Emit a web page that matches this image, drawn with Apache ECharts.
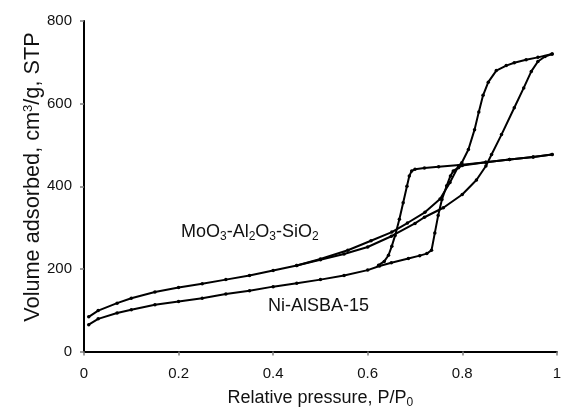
<!DOCTYPE html>
<html><head><meta charset="utf-8">
<script src="https://cdn.jsdelivr.net/npm/echarts@6/dist/echarts.min.js"></script>
<style>html,body{margin:0;padding:0;background:#fff}#c{width:564px;height:414px}</style>
</head><body><div id="c"></div>
<script>
// MoO3-Al2O3-SiO2 isotherm: adsorption and desorption branches [P/P0, volume]
const moAds = [[0.01,84],[0.03,99],[0.07,117],[0.10,129],[0.15,144],[0.20,155],[0.25,164],[0.30,174],[0.35,184],[0.40,196],[0.45,208],[0.50,222],[0.55,236],[0.60,253],[0.65,279],[0.70,310],[0.72,325],[0.76,348],[0.80,380],[0.83,415],[0.85,449],[0.862,477],[0.883,525],[0.91,590],[0.93,638],[0.946,678],[0.96,702],[0.975,714],[0.99,720]];
const moDes = [[0.99,720],[0.96,712],[0.935,706],[0.91,699],[0.893,692],[0.872,680],[0.855,652],[0.844,620],[0.835,580],[0.826,537],[0.813,489],[0.799,457],[0.792,449],[0.774,409],[0.753,369],[0.721,337],[0.684,311],[0.651,289],[0.607,268],[0.558,245],[0.50,224],[0.45,208]];
// Ni-AlSBA-15 isotherm
const niAds = [[0.01,65],[0.03,79],[0.07,93],[0.10,101],[0.15,113],[0.20,121],[0.25,129],[0.30,139],[0.35,147],[0.40,157],[0.45,165],[0.50,174],[0.55,184],[0.60,197],[0.625,207],[0.65,215],[0.686,225],[0.71,232],[0.725,237],[0.735,245],[0.742,287],[0.749,329],[0.757,368],[0.767,401],[0.775,425],[0.781,437],[0.792,445],[0.80,450],[0.85,458],[0.90,465],[0.95,471],[0.99,477]];
const niDes = [[0.99,477],[0.95,471],[0.90,465],[0.85,458],[0.80,452],[0.75,447],[0.72,444],[0.70,441],[0.693,437],[0.688,425],[0.683,400],[0.675,360],[0.667,320],[0.658,281],[0.651,255],[0.644,233],[0.635,218],[0.623,209]];
const xTickLabels = ['0','0.2','0.4','0.6','0.8','1'];
const yTickLabels = ['0','200','400','600','800'];
const labelMo = 'MoO{s|3}-Al{s|2}O{s|3}-SiO{s|2}';
const labelNi = 'Ni-AlSBA-15';
const yTitle = 'Volume adsorbed, cm{p|3}/g, STP';
const xTitle = 'Relative pressure, P/P{s|0}';

const FONT = 'Liberation Sans, Arial, sans-serif';
const chart = echarts.init(document.getElementById('c'), null, {renderer:'canvas'});
const gray = '#7f7f7f';
function ser(name, data){
  return {name, type:'line', data, xAxisIndex:0, yAxisIndex:0,
    lineStyle:{color:'#000', width:2}, itemStyle:{color:'#000'},
    symbol:'circle', symbolSize:3.5, showSymbol:true, smooth:false, silent:true, animation:false};
}
chart.setOption({
  animation:false,
  backgroundColor:'#fff',
  grid:{left:84, right:5, top:21, bottom:60, containLabel:false},
  xAxis:[{type:'value', min:0, max:1, interval:0.2, position:'bottom',
    axisLine:{show:true, lineStyle:{color:gray, width:1.5}},
    axisTick:{show:true, inside:false, length:4, lineStyle:{color:gray, width:1.5}},
    axisLabel:{color:'#111', fontSize:15, fontFamily:FONT, margin:15,
      formatter:(v)=>xTickLabels[Math.round(v/0.2)]},
    splitLine:{show:false},
    name:xTitle, nameLocation:'middle', nameGap:37,
    nameTextStyle:{color:'#111', fontSize:18, fontFamily:FONT, lineHeight:20,
      rich:{s:{fontSize:12, fontFamily:FONT, color:'#111', padding:[9,0,0,0]}}}
  },{type:'value', min:0, max:1, position:'top',
    axisLine:{show:true, lineStyle:{color:'#000', width:2}},
    axisTick:{show:false}, axisLabel:{show:false}, splitLine:{show:false}}],
  yAxis:[{type:'value', min:0, max:800, interval:200, position:'left',
    axisLine:{show:true, lineStyle:{color:gray, width:1.5}},
    axisTick:{show:true, inside:false, length:4, lineStyle:{color:gray, width:1.5}},
    axisLabel:{color:'#111', fontSize:15, fontFamily:FONT, margin:12,
      formatter:(v)=>yTickLabels[Math.round(v/200)]},
    splitLine:{show:false}
  },{type:'value', min:0, max:800, position:'right',
    axisLine:{show:true, lineStyle:{color:'#000', width:2}},
    axisTick:{show:false}, axisLabel:{show:false}, splitLine:{show:false}}],
  series:[ser('MoO3 ads', moAds), ser('MoO3 des', moDes), ser('Ni ads', niAds), ser('Ni des', niDes)],
  graphic:[
    {type:'text', x:33, y:177, rotation:Math.PI/2,
      style:{text:yTitle, fill:'#111', font:'21.7px '+FONT, textAlign:'center', textVerticalAlign:'middle',
        rich:{p:{fontSize:13, fontFamily:FONT, fill:'#111', padding:[0,0,9,0]}}}},
    {type:'text', x:181, y:232, style:{text:labelMo, fill:'#111', font:'18px '+FONT, textVerticalAlign:'middle',
      rich:{s:{fontSize:12, fontFamily:FONT, fill:'#111', padding:[9,0,0,0]}}}},
    {type:'text', x:268, y:306, style:{text:labelNi, fill:'#111', font:'18px '+FONT, textVerticalAlign:'middle'}}
  ]
});
</script></body></html>
